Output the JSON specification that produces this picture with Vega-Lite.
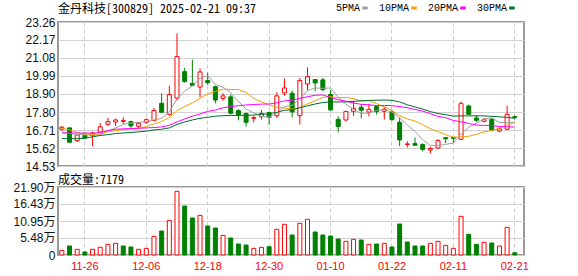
{
  "$schema": "https://vega.github.io/schema/vega-lite/v6.json",
  "padding": {"left": 11, "top": 2, "right": 5, "bottom": 2},
  "background": "white",
  "config": {
    "font": "Liberation Sans",
    "view": {"stroke": "#999999", "strokeWidth": 2},
    "axis": {"labelFont": "Liberation Sans, Noto Sans CJK SC", "labelFontSize": 12, "labelColor": "#111111", "tickSize": 0, "domain": false, "title": null, "gridColor": "#d2d2d2", "labelOverlap": false},
    "concat": {"spacing": 0}
  },
  "resolve": {"legend": {"color": "independent"}},
  "datasets": {
    "k": [
      {"d":"2024-11-21","o":16.76,"h":16.96,"l":16.68,"c":16.88,"v":1.50,"vd":"up","5PMA":16.60,"10PMA":16.82,"20PMA":16.53,"30PMA":16.19},
      {"d":"2024-11-22","o":16.84,"h":16.86,"l":15.95,"c":15.97,"v":2.90,"vd":"down","5PMA":16.50,"10PMA":16.72,"20PMA":16.53,"30PMA":16.19},
      {"d":"2024-11-25","o":16.07,"h":16.43,"l":15.99,"c":16.41,"v":1.83,"vd":"up","5PMA":16.45,"10PMA":16.57,"20PMA":16.53,"30PMA":16.19},
      {"d":"2024-11-26","o":16.39,"h":16.57,"l":16.17,"c":16.23,"v":0.97,"vd":"down","5PMA":16.42,"10PMA":16.47,"20PMA":16.53,"30PMA":16.21},
      {"d":"2024-11-27","o":16.37,"h":16.61,"l":15.73,"c":16.51,"v":1.83,"vd":"up","5PMA":16.40,"10PMA":16.45,"20PMA":16.53,"30PMA":16.30},
      {"d":"2024-11-28","o":16.59,"h":17.14,"l":16.55,"c":16.90,"v":2.47,"vd":"up","5PMA":16.40,"10PMA":16.47,"20PMA":16.55,"30PMA":16.38},
      {"d":"2024-11-29","o":17.06,"h":17.46,"l":16.96,"c":17.22,"v":3.44,"vd":"up","5PMA":16.65,"10PMA":16.61,"20PMA":16.68,"30PMA":16.43},
      {"d":"2024-12-02","o":17.20,"h":17.40,"l":16.96,"c":17.32,"v":3.76,"vd":"up","5PMA":16.84,"10PMA":16.67,"20PMA":16.76,"30PMA":16.50},
      {"d":"2024-12-03","o":17.24,"h":17.48,"l":17.08,"c":17.28,"v":2.90,"vd":"down","5PMA":17.05,"10PMA":16.74,"20PMA":16.78,"30PMA":16.53},
      {"d":"2024-12-04","o":17.22,"h":17.28,"l":16.84,"c":16.96,"v":2.58,"vd":"down","5PMA":17.14,"10PMA":16.77,"20PMA":16.80,"30PMA":16.56},
      {"d":"2024-12-05","o":16.94,"h":17.20,"l":16.80,"c":17.12,"v":1.83,"vd":"up","5PMA":17.18,"10PMA":16.79,"20PMA":16.82,"30PMA":16.60},
      {"d":"2024-12-06","o":17.18,"h":17.40,"l":17.08,"c":17.34,"v":2.15,"vd":"up","5PMA":17.20,"10PMA":16.93,"20PMA":16.84,"30PMA":16.64},
      {"d":"2024-12-09","o":17.28,"h":18.05,"l":17.24,"c":17.89,"v":6.01,"vd":"up","5PMA":17.32,"10PMA":17.08,"20PMA":16.86,"30PMA":16.72},
      {"d":"2024-12-10","o":18.33,"h":18.94,"l":17.75,"c":17.79,"v":7.73,"vd":"down","5PMA":17.42,"10PMA":17.23,"20PMA":16.90,"30PMA":16.76},
      {"d":"2024-12-11","o":17.67,"h":19.40,"l":17.58,"c":18.86,"v":11.16,"vd":"up","5PMA":17.80,"10PMA":17.47,"20PMA":17.00,"30PMA":16.84},
      {"d":"2024-12-12","o":18.65,"h":22.57,"l":18.49,"c":21.16,"v":20.50,"vd":"up","5PMA":18.61,"10PMA":17.89,"20PMA":17.20,"30PMA":17.05},
      {"d":"2024-12-13","o":20.25,"h":20.47,"l":19.58,"c":19.65,"v":15.78,"vd":"down","5PMA":19.07,"10PMA":18.14,"20PMA":17.38,"30PMA":17.20},
      {"d":"2024-12-16","o":19.54,"h":20.98,"l":19.36,"c":19.42,"v":11.92,"vd":"down","5PMA":19.38,"10PMA":18.35,"20PMA":17.55,"30PMA":17.32},
      {"d":"2024-12-17","o":19.32,"h":20.45,"l":18.70,"c":20.23,"v":12.77,"vd":"up","5PMA":19.86,"10PMA":18.64,"20PMA":17.68,"30PMA":17.42},
      {"d":"2024-12-18","o":19.71,"h":20.19,"l":19.44,"c":19.58,"v":9.34,"vd":"down","5PMA":20.01,"10PMA":18.90,"20PMA":17.84,"30PMA":17.48},
      {"d":"2024-12-19","o":19.34,"h":19.40,"l":18.33,"c":18.53,"v":8.70,"vd":"down","5PMA":19.48,"10PMA":19.05,"20PMA":17.92,"30PMA":17.55},
      {"d":"2024-12-20","o":18.63,"h":18.94,"l":18.49,"c":18.78,"v":6.33,"vd":"up","5PMA":19.31,"10PMA":19.19,"20PMA":18.06,"30PMA":17.58},
      {"d":"2024-12-23","o":18.72,"h":18.86,"l":17.65,"c":17.73,"v":5.47,"vd":"down","5PMA":18.97,"10PMA":19.17,"20PMA":18.13,"30PMA":17.59},
      {"d":"2024-12-24","o":17.89,"h":17.97,"l":17.30,"c":17.62,"v":3.54,"vd":"down","5PMA":18.45,"10PMA":19.16,"20PMA":18.19,"30PMA":17.60},
      {"d":"2024-12-25","o":17.71,"h":17.77,"l":16.92,"c":17.18,"v":3.22,"vd":"down","5PMA":17.97,"10PMA":18.99,"20PMA":18.23,"30PMA":17.60},
      {"d":"2024-12-26","o":17.42,"h":17.58,"l":17.18,"c":17.46,"v":2.15,"vd":"up","5PMA":17.75,"10PMA":18.62,"20PMA":18.26,"30PMA":17.62},
      {"d":"2024-12-27","o":17.52,"h":17.93,"l":17.34,"c":17.71,"v":2.47,"vd":"up","5PMA":17.54,"10PMA":18.42,"20PMA":18.28,"30PMA":17.66},
      {"d":"2024-12-30","o":17.77,"h":17.83,"l":17.04,"c":17.48,"v":2.68,"vd":"down","5PMA":17.49,"10PMA":18.23,"20PMA":18.29,"30PMA":17.70},
      {"d":"2024-12-31","o":17.58,"h":19.00,"l":17.44,"c":18.78,"v":8.27,"vd":"up","5PMA":17.72,"10PMA":18.09,"20PMA":18.36,"30PMA":17.78},
      {"d":"2025-01-02","o":18.96,"h":19.83,"l":18.78,"c":19.26,"v":9.88,"vd":"up","5PMA":18.14,"10PMA":18.05,"20PMA":18.48,"30PMA":17.91},
      {"d":"2025-01-03","o":18.94,"h":19.10,"l":17.48,"c":17.81,"v":6.44,"vd":"down","5PMA":18.21,"10PMA":17.98,"20PMA":18.51,"30PMA":17.94},
      {"d":"2025-01-06","o":17.58,"h":19.87,"l":17.04,"c":19.71,"v":10.20,"vd":"up","5PMA":18.61,"10PMA":18.07,"20PMA":18.63,"30PMA":18.06},
      {"d":"2025-01-07","o":19.50,"h":20.51,"l":19.10,"c":19.95,"v":11.49,"vd":"up","5PMA":19.10,"10PMA":18.30,"20PMA":18.73,"30PMA":18.18},
      {"d":"2025-01-08","o":19.77,"h":19.79,"l":19.06,"c":19.56,"v":7.41,"vd":"down","5PMA":19.26,"10PMA":18.49,"20PMA":18.82,"30PMA":18.29},
      {"d":"2025-01-09","o":19.75,"h":19.87,"l":19.06,"c":19.16,"v":6.44,"vd":"down","5PMA":19.24,"10PMA":18.69,"20PMA":18.84,"30PMA":18.38},
      {"d":"2025-01-10","o":18.86,"h":19.14,"l":17.85,"c":17.93,"v":6.12,"vd":"down","5PMA":19.26,"10PMA":18.74,"20PMA":18.68,"30PMA":18.42},
      {"d":"2025-01-13","o":17.36,"h":17.54,"l":16.57,"c":16.92,"v":5.15,"vd":"down","5PMA":18.70,"10PMA":18.66,"20PMA":18.54,"30PMA":18.41},
      {"d":"2025-01-14","o":17.32,"h":17.89,"l":17.24,"c":17.83,"v":4.40,"vd":"up","5PMA":18.28,"10PMA":18.69,"20PMA":18.46,"30PMA":18.42},
      {"d":"2025-01-15","o":17.85,"h":18.47,"l":17.56,"c":18.01,"v":5.05,"vd":"up","5PMA":17.97,"10PMA":18.61,"20PMA":18.35,"30PMA":18.45},
      {"d":"2025-01-16","o":18.09,"h":18.29,"l":17.42,"c":17.91,"v":4.83,"vd":"down","5PMA":17.72,"10PMA":18.48,"20PMA":18.27,"30PMA":18.48},
      {"d":"2025-01-17","o":17.80,"h":18.31,"l":17.54,"c":17.96,"v":3.44,"vd":"up","5PMA":17.73,"10PMA":18.49,"20PMA":18.24,"30PMA":18.51},
      {"d":"2025-01-20","o":18.13,"h":18.21,"l":17.65,"c":17.83,"v":3.54,"vd":"down","5PMA":17.91,"10PMA":18.31,"20PMA":18.19,"30PMA":18.52},
      {"d":"2025-01-21","o":17.85,"h":18.11,"l":17.34,"c":17.97,"v":3.76,"vd":"up","5PMA":17.94,"10PMA":18.11,"20PMA":18.20,"30PMA":18.53},
      {"d":"2025-01-22","o":17.81,"h":17.93,"l":17.28,"c":17.34,"v":2.58,"vd":"down","5PMA":17.80,"10PMA":17.89,"20PMA":18.19,"30PMA":18.51},
      {"d":"2025-01-23","o":17.18,"h":17.48,"l":15.74,"c":16.11,"v":9.98,"vd":"down","5PMA":17.44,"10PMA":17.58,"20PMA":18.13,"30PMA":18.42},
      {"d":"2025-01-24","o":15.83,"h":16.03,"l":15.66,"c":15.87,"v":4.19,"vd":"down","5PMA":17.02,"10PMA":17.38,"20PMA":18.06,"30PMA":18.24},
      {"d":"2025-01-27","o":15.89,"h":16.25,"l":15.79,"c":15.79,"v":2.90,"vd":"down","5PMA":16.62,"10PMA":17.26,"20PMA":17.96,"30PMA":18.11},
      {"d":"2025-02-05","o":15.83,"h":15.91,"l":15.42,"c":15.54,"v":2.90,"vd":"down","5PMA":16.13,"10PMA":17.03,"20PMA":17.86,"30PMA":17.98},
      {"d":"2025-02-06","o":15.50,"h":15.70,"l":15.30,"c":15.60,"v":3.76,"vd":"up","5PMA":15.78,"10PMA":16.79,"20PMA":17.70,"30PMA":17.83},
      {"d":"2025-02-07","o":15.62,"h":16.15,"l":15.58,"c":16.07,"v":4.40,"vd":"up","5PMA":15.77,"10PMA":16.61,"20PMA":17.54,"30PMA":17.71},
      {"d":"2025-02-10","o":16.25,"h":16.25,"l":15.91,"c":16.18,"v":3.11,"vd":"up","5PMA":15.84,"10PMA":16.43,"20PMA":17.46,"30PMA":17.64},
      {"d":"2025-02-11","o":16.27,"h":16.27,"l":15.91,"c":16.21,"v":2.15,"vd":"up","5PMA":15.92,"10PMA":16.27,"20PMA":17.29,"30PMA":17.55},
      {"d":"2025-02-12","o":16.15,"h":18.43,"l":16.11,"c":18.31,"v":12.45,"vd":"up","5PMA":16.47,"10PMA":16.30,"20PMA":17.21,"30PMA":17.57},
      {"d":"2025-02-13","o":18.17,"h":18.25,"l":17.66,"c":17.66,"v":6.66,"vd":"down","5PMA":16.89,"10PMA":16.33,"20PMA":17.11,"30PMA":17.57},
      {"d":"2025-02-14","o":17.44,"h":17.62,"l":17.20,"c":17.30,"v":3.44,"vd":"down","5PMA":17.13,"10PMA":16.45,"20PMA":17.02,"30PMA":17.57},
      {"d":"2025-02-17","o":17.24,"h":17.46,"l":17.18,"c":17.34,"v":4.08,"vd":"up","5PMA":17.36,"10PMA":16.60,"20PMA":16.99,"30PMA":17.57},
      {"d":"2025-02-18","o":17.36,"h":17.42,"l":16.70,"c":16.70,"v":3.86,"vd":"down","5PMA":17.46,"10PMA":16.69,"20PMA":16.98,"30PMA":17.54},
      {"d":"2025-02-19","o":16.65,"h":16.86,"l":16.57,"c":16.78,"v":2.90,"vd":"up","5PMA":17.16,"10PMA":16.82,"20PMA":16.92,"30PMA":17.51},
      {"d":"2025-02-20","o":16.76,"h":18.19,"l":16.70,"c":17.66,"v":8.91,"vd":"up","5PMA":17.16,"10PMA":17.02,"20PMA":16.91,"30PMA":17.48},
      {"d":"2025-02-21","o":17.52,"h":17.60,"l":17.34,"c":17.48,"v":0.72,"vd":"down","5PMA":17.19,"10PMA":17.16,"20PMA":16.89,"30PMA":17.42}
    ]
  },
  "vconcat": [
    {
      "width": 466,
      "height": 144,
      "title": {"text": "金丹科技[300829] 2025-02-21 09:37", "anchor": "start", "frame": "group", "font": "Noto Sans Mono CJK SC, Noto Sans CJK SC", "fontSize": 12, "fontWeight": "normal", "color": "#000000", "offset": -13},
      "data": {"name": "k"},
      "encoding": {
        "x": {"field": "d", "type": "ordinal", "sort": null,
          "scale": {"paddingInner": 0, "paddingOuter": 0.35, "align": 0},
          "axis": {"values": ["2024-11-26","2024-12-06","2024-12-18","2024-12-30","2025-01-10","2025-01-22","2025-02-11","2025-02-21"], "labels": false, "ticks": false, "grid": true, "gridDash": [4, 3], "gridColor": "#cccccc", "bandPosition": 0.5, "minExtent": 0, "maxExtent": 0}}
      },
      "layer": [
        {
          "mark": {"type": "rule", "strokeWidth": 1},
          "encoding": {
            "y": {"field": "l", "type": "quantitative", "scale": {"domain": [14.53, 23.26], "nice": false, "zero": false},
              "axis": {"values": [14.53, 15.62, 16.71, 17.80, 18.90, 19.99, 21.08, 22.17, 23.26], "tickCount": 20, "format": ".2f", "labelPadding": 3, "labelOverlap": false, "grid": true, "minExtent": 45, "maxExtent": 45}},
            "y2": {"field": "h"},
            "color": {"condition": {"test": "datum.c >= datum.o", "value": "#ff0000"}, "value": "#008000"}
          }
        },
        {
          "mark": {"type": "bar", "width": 4, "strokeWidth": 1},
          "encoding": {
            "y": {"field": "o", "type": "quantitative",
              "axis": {"values": [14.53, 15.62, 16.71, 17.80, 18.90, 19.99, 21.08, 22.17, 23.26], "tickCount": 20, "format": ".2f", "labelPadding": 3, "labelOverlap": false, "grid": true, "minExtent": 45, "maxExtent": 45}},
            "y2": {"field": "c"},
            "fill": {"condition": {"test": "datum.c >= datum.o", "value": "#ffffff"}, "value": "#008000"},
            "stroke": {"condition": {"test": "datum.c >= datum.o", "value": "#ff0000"}, "value": "#008000"}
          }
        },
        {
          "transform": [{"fold": ["5PMA", "10PMA", "20PMA", "30PMA"], "as": ["s", "val"]}],
          "mark": {"type": "line", "strokeWidth": 1},
          "encoding": {
            "x": {"field": "d", "type": "ordinal", "bandPosition": 0.5},
            "y": {"field": "val", "type": "quantitative",
              "axis": {"values": [14.53, 15.62, 16.71, 17.80, 18.90, 19.99, 21.08, 22.17, 23.26], "tickCount": 20, "format": ".2f", "labelPadding": 3, "labelOverlap": false, "grid": true, "minExtent": 45, "maxExtent": 45}},
            "color": {"field": "s", "type": "nominal",
              "scale": {"domain": ["5PMA", "10PMA", "20PMA", "30PMA"], "range": ["#a0a0a0", "#f5a000", "#ff00ff", "#006f2f"]},
              "legend": {"orient": "none", "legendX": 302, "legendY": -19, "direction": "horizontal", "title": null, "padding": 0,
                "labelFont": "Liberation Mono", "labelFontSize": 10, "labelColor": "#000000",
                "symbolType": "stroke", "symbolStrokeWidth": 3, "symbolSize": 30,
                "labelAlign": "right", "labelOffset": -10, "columnPadding": 4}}
          }
        }
      ]
    },
    {
      "width": 466,
      "height": 68,
      "title": {"text": "成交量:7179", "anchor": "start", "frame": "group", "font": "Noto Sans Mono CJK SC, Noto Sans CJK SC", "fontSize": 12, "fontWeight": "normal", "color": "#000000", "offset": -6},
      "data": {"name": "k"},
      "mark": {"type": "bar", "width": 4, "strokeWidth": 1},
      "encoding": {
        "x": {"field": "d", "type": "ordinal", "sort": null,
          "scale": {"paddingInner": 0, "paddingOuter": 0.35, "align": 0},
          "axis": {"values": ["2024-11-26","2024-12-06","2024-12-18","2024-12-30","2025-01-10","2025-01-22","2025-02-11","2025-02-21"], "labelExpr": "slice(datum.value, 5)", "labelColor": "#ff0000", "labelFontSize": 11, "labelPadding": 5, "labelAngle": 0, "labelFlush": false, "ticks": false, "grid": true, "gridDash": [4, 3], "gridColor": "#cccccc", "bandPosition": 0.5}},
        "y": {"field": "v", "type": "quantitative", "scale": {"domain": [0, 21.9], "nice": false},
          "axis": {"values": [0, 5.48, 10.95, 16.43, 21.9], "tickCount": 20, "labelExpr": "datum.value == 0 ? '0' : format(datum.value, '.2f') + '万'", "labelPadding": 3, "labelOverlap": false, "grid": true, "minExtent": 45, "maxExtent": 45}},
        "fill": {"condition": {"test": "datum.vd == 'up'", "value": "#ffffff"}, "value": "#008000"},
        "stroke": {"condition": {"test": "datum.vd == 'up'", "value": "#ff0000"}, "value": "#008000"}
      }
    }
  ]
}
